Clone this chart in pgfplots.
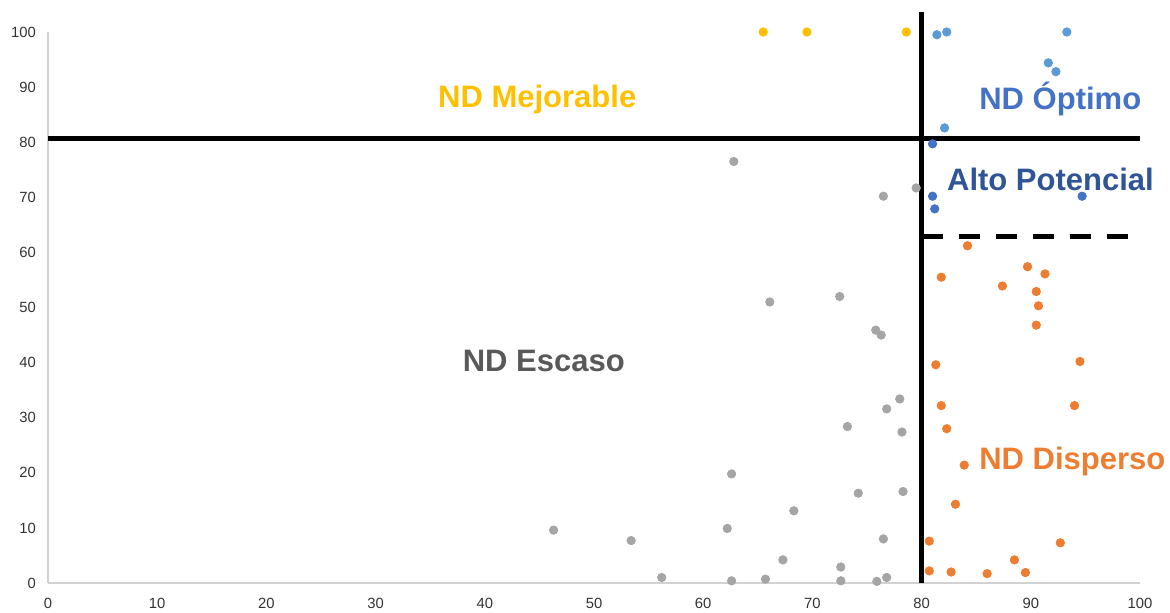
\documentclass[border=0pt]{standalone}
\usepackage{fontspec}
\setmainfont{Liberation Sans}
\usepackage{pgfplots}
\pgfplotsset{compat=1.18}

\definecolor{cYellow}{HTML}{FFC000}
\definecolor{cLightBlue}{HTML}{5B9BD5}
\definecolor{cBlue}{HTML}{4472C4}
\definecolor{cDarkBlue}{HTML}{2F5597}
\definecolor{cGray}{HTML}{A5A5A5}
\definecolor{cOrange}{HTML}{ED7D31}
\definecolor{cText}{HTML}{595959}
\definecolor{cTick}{HTML}{333333}

\begin{document}
\begin{tikzpicture}
\useasboundingbox (-24pt,-14.5pt) rectangle (561pt,291.5pt);
\begin{axis}[
  scale only axis, width=546pt, height=275.5pt,
  xmin=0, xmax=100, ymin=0, ymax=100,
  xtick distance=10, ytick distance=10,
  axis x line*=bottom, axis y line*=left,
  axis line style={draw=gray!35, line width=0.6pt},
  major tick length=0pt,
  tick label style={font=\fontsize{7.4}{8}\selectfont, text=cTick},
  yticklabel style={xshift=-2.5pt},
  xticklabel style={yshift=-4pt},
  /pgf/number format/assume math mode=true,
  clip=false,
  every axis plot/.append style={only marks, mark=*, mark size=2.1pt},
]
% ND Mejorable
\addplot[cYellow, mark options={draw=cYellow, fill=cYellow}] coordinates {
  (65.5,100) (69.5,100) (78.6,100)};
% ND Optimo
\addplot[cLightBlue, mark options={draw=cLightBlue, fill=cLightBlue}] coordinates {
  (81.4,99.5) (82.3,100) (93.3,100) (91.6,94.4) (92.3,92.8) (82.1,82.6)};
% Alto potencial
\addplot[cBlue, mark options={draw=cBlue, fill=cBlue}] coordinates {
  (81.0,79.7) (81.0,70.2) (81.2,67.9) (94.7,70.2)};
% ND Escaso
\addplot[cGray, mark options={draw=cGray, fill=cGray}] coordinates {
  (62.8,76.5) (76.5,70.2) (79.5,71.7) (66.1,51.0) (72.5,52.0) (75.8,45.9)
  (76.3,45.0) (78.0,33.4) (76.8,31.6) (73.2,28.4) (78.2,27.4) (62.6,19.8)
  (74.2,16.3) (78.3,16.6) (68.3,13.1) (46.3,9.6) (62.2,9.9) (53.4,7.7)
  (76.5,8.0) (67.3,4.2) (72.6,2.9) (56.2,1.0) (62.6,0.4) (65.7,0.7)
  (72.6,0.4) (75.9,0.3) (76.8,1.0)};
% ND Disperso
\addplot[cOrange, mark options={draw=cOrange, fill=cOrange}] coordinates {
  (84.2,61.2) (89.7,57.4) (91.3,56.1) (81.8,55.5) (87.4,53.9) (90.5,52.9)
  (90.7,50.3) (90.5,46.8) (81.3,39.6) (94.5,40.2) (81.8,32.2) (94.0,32.2)
  (82.3,28.0) (83.9,21.4) (83.1,14.3) (80.7,7.6) (92.7,7.3) (80.7,2.2)
  (82.7,2.0) (86.0,1.7) (88.5,4.2) (89.5,1.9)};
% dividing lines
\addplot[black, line width=2.3pt, no marks, sharp plot] coordinates {(0,80.7) (100,80.7)};
\addplot[black, line width=2.3pt, no marks, sharp plot] coordinates {(80,0) (80,103.6)};
\addplot[black, line width=2.5pt, no marks, sharp plot, dash pattern=on 10.5pt off 8pt]
  coordinates {(80,62.9) (98.9,62.9)};
% region labels
\node[font=\bfseries\fontsize{15.5}{18}\selectfont, text=cYellow] at (axis cs:44.8,87.7) {ND Mejorable};
\node[font=\bfseries\fontsize{15.5}{18}\selectfont, text=cBlue] at (axis cs:92.7,87.8) {ND Óptimo};
\node[font=\bfseries\fontsize{15.5}{18}\selectfont, text=cDarkBlue] at (axis cs:91.8,73.3) {Alto Potencial};
\node[font=\bfseries\fontsize{15.5}{18}\selectfont, text=cText] at (axis cs:45.4,40.3) {ND Escaso};
\node[font=\bfseries\fontsize{15.5}{18}\selectfont, text=cOrange] at (axis cs:93.8,22.0) {ND Disperso};
\end{axis}
\end{tikzpicture}
\end{document}
